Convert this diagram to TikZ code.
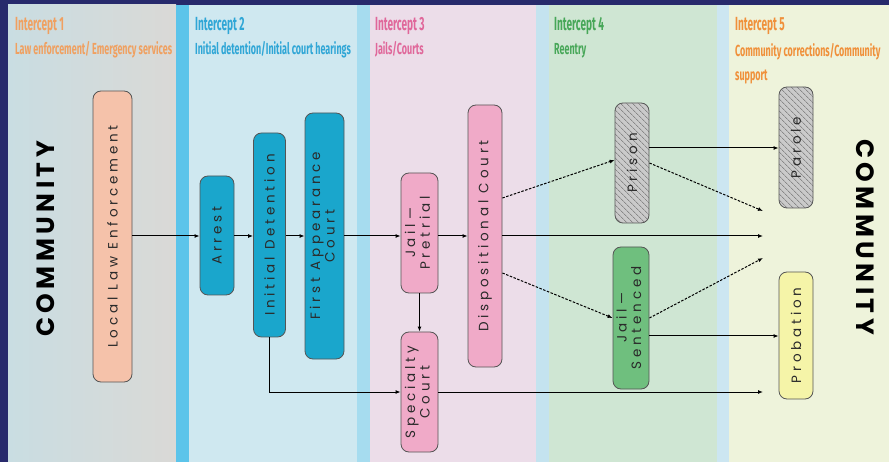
\documentclass[tikz,border=0pt]{standalone}
\usepackage{fontspec}
\usetikzlibrary{arrows.meta,patterns.meta,calc}
\newfontfamily\titlefont[FakeStretch=0.53]{Fira Sans}
\newfontfamily\subfont[FakeStretch=0.56]{Fira Sans}
\newfontfamily\nodefont[LetterSpace=28]{Poppins}
\newfontfamily\commfont[LetterSpace=18]{Poppins}
\definecolor{bgdark}{HTML}{272A6C}
\definecolor{pA}{HTML}{C9DDE2}
\definecolor{pB}{HTML}{DAD9D6}
\definecolor{pTwo}{HTML}{CFE8F0}
\definecolor{pThree}{HTML}{ECDDE9}
\definecolor{pFour}{HTML}{CFE6D3}
\definecolor{pFive}{HTML}{EEF3DB}
\definecolor{sOne}{HTML}{5CC4EA}
\definecolor{sTwo}{HTML}{A6DCEF}
\definecolor{sThree}{HTML}{C4E3EF}
\definecolor{sFour}{HTML}{CCE6F1}
\definecolor{cOne}{HTML}{F0A060}
\definecolor{cTwo}{HTML}{2FA6D6}
\definecolor{cThree}{HTML}{E0679A}
\definecolor{cFour}{HTML}{47A758}
\definecolor{cFive}{HTML}{F0903A}
\definecolor{peach}{HTML}{F5C2AA}
\definecolor{teal}{HTML}{1AA6CC}
\definecolor{pinkbox}{HTML}{F0AAC8}
\definecolor{greenbox}{HTML}{6FBF7E}
\definecolor{yellowbox}{HTML}{F5F4A8}
\definecolor{hatchbg}{HTML}{CACACA}
\definecolor{hatchline}{HTML}{666666}
\definecolor{boxline}{HTML}{555555}
\definecolor{txt}{HTML}{2A2A2A}
\tikzset{
  box/.style={draw=boxline, line width=0.8pt, rounded corners=8pt, inner sep=0pt,
    font=\nodefont\fontsize{13.5}{14.5}\selectfont, text=txt},
  hatched/.style={box, fill=hatchbg,
    postaction={pattern={Lines[angle=-45,distance=4pt,line width=0.6pt]}, pattern color=hatchline}},
  arr/.style={-{Latex[length=5pt,width=4pt]}, line width=1pt, draw=black},
  darr/.style={arr, dash pattern=on 2.5pt off 1.5pt},
  ttl/.style={anchor=base west, inner sep=0pt, font=\titlefont\bfseries\fontsize{19}{20}\selectfont},
  sub/.style={anchor=base west, inner sep=0pt, font=\subfont\bfseries\fontsize{16}{24}\selectfont, align=left},
  comm/.style={font=\commfont\bfseries\fontsize{25}{25}\selectfont, text=black}
}
\begin{document}
\begin{tikzpicture}[x=1pt,y=-1pt]
\useasboundingbox (0,0) rectangle (889,462);
\fill[bgdark] (0,0) rectangle (889,462);
% panels
\shade[left color=pA, right color=pB] (8,5) rectangle (176,462);
\fill[sOne] (176,5) rectangle (189,462);
\fill[pTwo] (189,5) rectangle (357,462);
\fill[sTwo] (357,5) rectangle (370,462);
\fill[pThree] (370,5) rectangle (536,462);
\fill[sThree] (536,5) rectangle (549,462);
\fill[pFour] (549,5) rectangle (717,462);
\fill[sFour] (717,5) rectangle (729,462);
\fill[pFive] (729,5) rectangle (889,462);
% titles
\node[ttl, text=cOne] (t1) at (15,31) {Intercept 1};
\node[sub, text=cOne] (s1) at (15,55) {Law enforcement/ Emergency services};
\node[ttl, text=cTwo] (t2) at (195,31) {Intercept 2};
\node[sub, text=cTwo] (s2) at (195,55) {Initial detention/Initial court hearings};
\node[ttl, text=cThree] (t3) at (375,31) {Intercept 3};
\node[sub, text=cThree] (s3) at (375,55) {Jails/Courts};
\node[ttl, text=cFour] (t4) at (554,31) {Intercept 4};
\node[sub, text=cFour] (s4) at (554,55) {Reentry};
\node[ttl, text=cFive] (t5) at (735,31) {Intercept 5};
\node[sub, text=cFive, anchor=north west] (s5) at (735,43) {Community corrections/Community\\support};
% community labels
\node[comm, rotate=90] (cl) at (46,239) {COMMUNITY};
\node[comm, rotate=-90] (cr) at (865,237) {COMMUNITY};
% boxes
\node[box, fill=peach, minimum width=39pt, minimum height=291pt] (lle) at (112.5,236.5) {\rotatebox{90}{Local Law Enforcement}};
\node[box, fill=teal, minimum width=34pt, minimum height=119pt] (arrest) at (217,235.5) {\rotatebox{90}{Arrest}};
\node[box, fill=teal, minimum width=32pt, minimum height=204pt] (idet) at (269.5,235) {\rotatebox{90}{Initial Detention}};
\node[box, fill=teal, minimum width=39pt, minimum height=246pt] (fac) at (324.5,236) {\rotatebox{90}{\begin{tabular}{@{}c@{}}First Appearance\\Court\end{tabular}}};
\node[box, fill=pinkbox, minimum width=37pt, minimum height=120pt] (jp) at (419.5,233) {\rotatebox{90}{\begin{tabular}{@{}c@{}}Jail—\\Pretrial\end{tabular}}};
\node[box, fill=pinkbox, minimum width=37pt, minimum height=120pt] (sc) at (419.5,392) {\rotatebox{90}{\begin{tabular}{@{}c@{}}Specialty\\Court\end{tabular}}};
\node[box, fill=pinkbox, minimum width=34pt, minimum height=262pt] (dc) at (485,236) {\rotatebox{90}{Dispositional Court}};
\node[hatched, minimum width=34pt, minimum height=120pt] (prison) at (632,163) {\rotatebox{90}{Prison}};
\node[box, fill=greenbox, minimum width=36pt, minimum height=142pt] (js) at (631,318) {\rotatebox{90}{\begin{tabular}{@{}c@{}}Jail—\\Sentenced\end{tabular}}};
\node[hatched, minimum width=34pt, minimum height=121pt] (parole) at (796,147.5) {\rotatebox{90}{Parole}};
\node[box, fill=yellowbox, minimum width=34pt, minimum height=127pt] (prob) at (796,335.5) {\rotatebox{90}{Probation}};
% free ends
\coordinate (m) at (0,236);
\coordinate (e1) at (763,211);
\coordinate (e2) at (763,236);
\coordinate (e3) at (763,258);
\coordinate (e4) at (763,392);
% connectors
\draw[arr] (lle.east |- m) -- (arrest.west |- m);
\draw[arr] (arrest.east |- m) -- (idet.west |- m);
\draw[arr] (idet.east |- m) -- (fac.west |- m);
\draw[arr] (fac.east |- m) -- (jp.west |- m);
\draw[arr] (jp.east |- m) -- (dc.west |- m);
\draw[arr] (dc.east |- m) -- (e2);
\draw[arr] (jp.south) -- (sc.north);
\draw[arr] (idet.south) |- (sc.west);
\draw[arr] (sc.east) -- (e4);
\draw[darr] ([yshift=38pt]dc.east) -- ([yshift=3pt]prison.west);
\draw[darr] ([yshift=-37pt]dc.east) -- (js.west);
\draw[arr] ([yshift=15pt]prison.east) -- ([yshift=15pt]prison.east -| parole.west);
\draw[darr] (prison.east) -- (e1);
\draw[darr] (js.east) -- (e3);
\draw[arr] ([yshift=-18pt]js.east) -- ([yshift=-18pt]js.east -| prob.west);
\end{tikzpicture}
\end{document}
